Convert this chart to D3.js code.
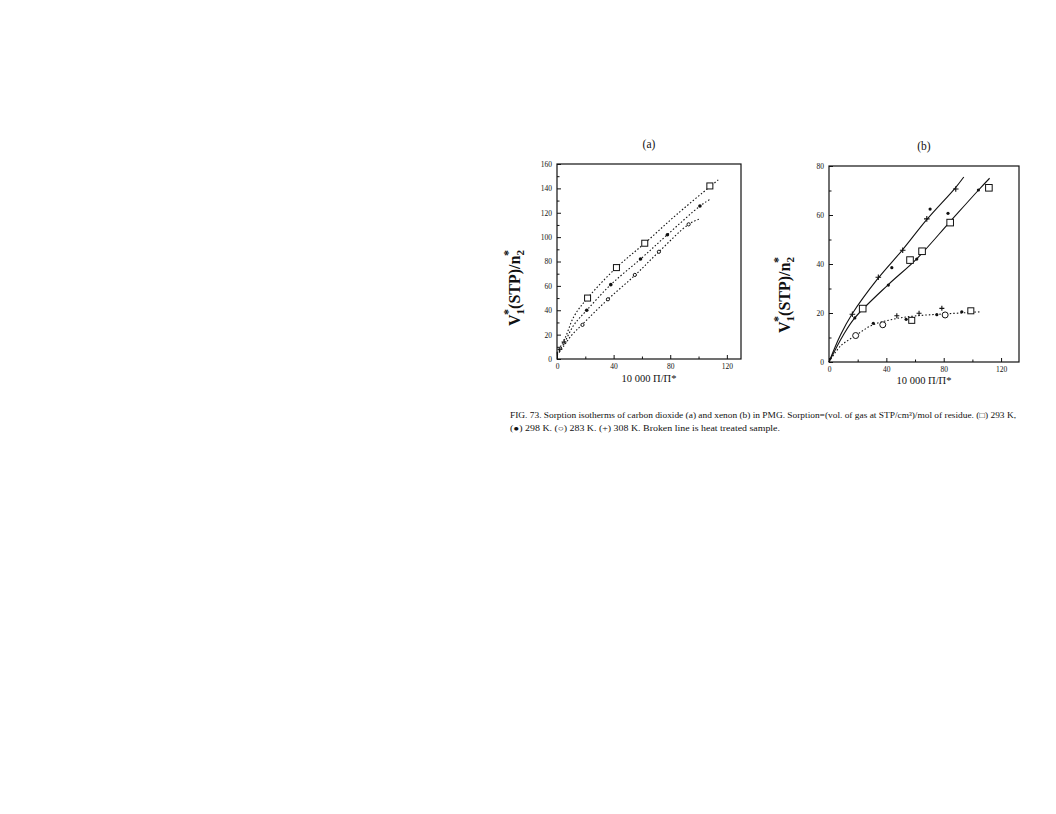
<!DOCTYPE html>
<html>
<head>
<meta charset="utf-8">
<script src="https://cdn.jsdelivr.net/npm/d3@7"></script>
<style>
  body { margin: 0; background: #fff; }
  svg { display: block; opacity: 0.999; }
  text { font-family: "Liberation Serif", "DejaVu Serif", serif; fill: #111; }
</style>
</head>
<body>
<div id="chart"></div>
<script>
var svgWidth = 1056;
var svgHeight = 814;

// ---- panel (a): CO2 ----
var aSquares = [[21.6, 50], [42, 75], [62, 95], [108, 142]];
var aFilled = [[21, 40], [38, 61], [59, 82], [78, 102], [101, 125.5]];
var aOpen = [[18, 28], [36, 49], [55, 69], [72, 88], [93, 110.5]];
var aPlus = [[5, 14], [2, 8]];
var aLineSq = [[0, 5], [6, 18], [12, 35], [21.6, 50], [42, 75], [62, 95], [85, 119], [115, 148]];
var aLineFilled = [[0, 4], [5, 13], [12, 28], [21, 40], [38, 61], [59, 82], [78, 102], [101, 125.5], [108, 131]];
var aLineOpen = [[0, 3], [5, 11], [10, 19], [18, 28.5], [36, 49], [55, 68.6], [72, 88], [93, 110.5], [101, 115]];

// ---- panel (b): xenon ----
var bPlusUpper = [[16.3, 19.5], [34.4, 34.6], [51.4, 45.6], [68.2, 58.4], [88.4, 70.6]];
var bDotUpper = [[43.8, 38.5], [70.5, 62.4]];
var bSquares = [[23.5, 21.8], [56.5, 41.6], [64.9, 45.2], [84.5, 56.9], [111.5, 71.1]];
var bFilled = [[18, 18], [41.4, 31.4], [61.2, 42], [83, 60.7], [104.2, 70.2]];
var bLowCircles = [[18.6, 10.8], [37.5, 15.2], [81, 19.2]];
var bLowSquares = [[57.7, 17], [98.9, 20.9]];
var bLowDots = [[30.9, 15.8], [53.8, 17.4], [75.2, 19.3], [92.6, 20.5]];
var bLowPlus = [[47.3, 18.9], [62.8, 19.9], [78.7, 21.9]];
var bLineUpper = [[0, 0], [8, 11], [16, 19.5], [34, 34], [51, 45.6], [68, 58], [88, 71], [94, 75.5]];
var bLineMiddle = [[0, 0], [10, 11], [18, 18], [41, 31.4], [61, 42], [84, 57], [104, 70], [112, 75]];
var bLineLower = [[0, 0], [8, 6.5], [18.6, 10.8], [30, 15], [45, 17.5], [60, 18.8], [80, 19.6], [106, 20.5]];

var xTicks = [0, 40, 80, 120];
var xMinor = [20, 60, 100];
var aYTicks = [0, 20, 40, 60, 80, 100, 120, 140, 160];
var aYMinor = [10, 30, 50, 70, 90, 110, 130, 150];
var bYTicks = [0, 20, 40, 60, 80];
var bYMinor = [10, 30, 50, 70];

var caption1 = "FIG. 73.  Sorption isotherms of carbon dioxide (a) and xenon (b) in PMG. Sorption=(vol. of gas at STP/cm\u00B3)/mol of residue. (\u25A1) 293 K,";
var caption2 = "(\u25CF) 298 K. (\u25CB) 283 K. (+) 308 K.  Broken line is heat treated sample.";

var svg = d3.select("#chart")
  .append("svg")
  .attr("width", svgWidth)
  .attr("height", svgHeight);

// draw one panel frame + axes, return scales
function makePanel(box, xMax, yMax, yTicks, yMinor, title) {
  var x = d3.scaleLinear().domain([0, xMax]).range([box.left, box.right]);
  var y = d3.scaleLinear().domain([0, yMax]).range([box.bottom, box.top]);
  var g = svg.append("g");

  g.append("rect")
    .attr("x", box.left).attr("y", box.top)
    .attr("width", box.right - box.left).attr("height", box.bottom - box.top)
    .attr("fill", "none").attr("stroke", "#111").attr("stroke-width", 1.2);

  var bottomAxis = d3.axisBottom(x).tickValues(xTicks).tickSizeInner(-4).tickSizeOuter(0).tickPadding(5);
  g.append("g").attr("transform", `translate(0,${box.bottom})`).call(bottomAxis);
  g.append("g").attr("transform", `translate(0,${box.bottom})`)
    .call(d3.axisBottom(x).tickValues(xMinor).tickSizeInner(-2.5).tickSizeOuter(0).tickFormat(""));

  var leftAxis = d3.axisLeft(y).tickValues(yTicks).tickSizeInner(-4).tickSizeOuter(0).tickPadding(5);
  g.append("g").attr("transform", `translate(${box.left},0)`).call(leftAxis);
  g.append("g").attr("transform", `translate(${box.left},0)`)
    .call(d3.axisLeft(y).tickValues(yMinor).tickSizeInner(-2.5).tickSizeOuter(0).tickFormat(""));

  g.selectAll(".domain").remove();
  g.selectAll(".tick line").attr("stroke", "#111");
  g.selectAll(".tick text").style("font-family", "'Liberation Serif', serif").style("font-size", "7.5px").attr("fill", "#111");

  svg.append("text")
    .attr("x", (box.left + box.right) / 2).attr("y", box.top - 16)
    .attr("text-anchor", "middle").style("font-size", "11.5px")
    .text(title);

  return { x: x, y: y };
}

function drawLine(s, pts, dashed) {
  var line = d3.line().x(d => s.x(d[0])).y(d => s.y(d[1])).curve(d3.curveCatmullRom.alpha(0.5));
  svg.append("path")
    .datum(pts)
    .attr("d", line)
    .attr("fill", "none")
    .attr("stroke", "#111")
    .attr("stroke-width", 1.1)
    .attr("stroke-dasharray", dashed ? "1.5,2" : null);
}

function drawMarks(s, pts, kind, size) {
  var g = svg.append("g");
  pts.forEach(function(p) {
    var cx = s.x(p[0]), cy = s.y(p[1]);
    if (kind === "square") {
      g.append("rect").attr("x", cx - size).attr("y", cy - size)
        .attr("width", size * 2).attr("height", size * 2)
        .attr("fill", "#fff").attr("stroke", "#111").attr("stroke-width", 1);
    } else if (kind === "circle") {
      g.append("circle").attr("cx", cx).attr("cy", cy).attr("r", size)
        .attr("fill", "#fff").attr("stroke", "#111").attr("stroke-width", 1);
    } else if (kind === "dot") {
      g.append("circle").attr("cx", cx).attr("cy", cy).attr("r", size).attr("fill", "#111");
    } else if (kind === "plus") {
      g.append("path")
        .attr("d", `M${cx - size},${cy}H${cx + size}M${cx},${cy - size}V${cy + size}`)
        .attr("stroke", "#111").attr("stroke-width", 1.1);
    }
  });
}

function yLabel(cx, cy) {
  var t = svg.append("text")
    .attr("transform", `translate(${cx},${cy}) rotate(-90)`)
    .attr("text-anchor", "middle")
    .style("font-size", "16px")
    .style("font-weight", "bold");
  t.append("tspan").text("V");
  t.append("tspan").attr("dy", 4).style("font-size", "11px").text("1");
  t.append("tspan").attr("dy", -12).attr("dx", -6).style("font-size", "12px").text("*");
  t.append("tspan").attr("dy", 8).text("(STP)/n");
  t.append("tspan").attr("dy", 4).style("font-size", "11px").text("2");
  t.append("tspan").attr("dy", -12).attr("dx", -6).style("font-size", "12px").text("*");
}

function xLabel(cx, cy) {
  svg.append("text")
    .attr("x", cx).attr("y", cy)
    .attr("text-anchor", "middle")
    .style("font-size", "10.5px")
    .text("10 000 \u03A0/\u03A0*");
}

// panel (a)
var sa = makePanel({ left: 557, right: 741, top: 164, bottom: 359 }, 130, 160, aYTicks, aYMinor, "(a)");
drawLine(sa, aLineSq, true);
drawLine(sa, aLineFilled, true);
drawLine(sa, aLineOpen, true);
drawMarks(sa, aSquares, "square", 3);
drawMarks(sa, aFilled, "dot", 1.8);
drawMarks(sa, aOpen, "circle", 1.6);
drawMarks(sa, aPlus, "plus", 2.5);
yLabel(520, 288);
xLabel(649, 382);

// panel (b)
var sb = makePanel({ left: 829, right: 1019, top: 166, bottom: 362 }, 132.5, 80, bYTicks, bYMinor, "(b)");
drawLine(sb, bLineUpper, false);
drawLine(sb, bLineMiddle, false);
drawLine(sb, bLineLower, true);
drawMarks(sb, bPlusUpper, "plus", 2.8);
drawMarks(sb, bDotUpper, "dot", 1.6);
drawMarks(sb, bSquares, "square", 3.3);
drawMarks(sb, bFilled, "dot", 1.6);
drawMarks(sb, bLowCircles, "circle", 3);
drawMarks(sb, bLowSquares, "square", 3);
drawMarks(sb, bLowDots, "dot", 1.6);
drawMarks(sb, bLowPlus, "plus", 2.5);
yLabel(790, 295);
xLabel(924, 384);

// caption
svg.append("text").attr("x", 510).attr("y", 418).style("font-size", "8px")
  .attr("textLength", 506).attr("lengthAdjust", "spacingAndGlyphs").text(caption1);
svg.append("text").attr("x", 510).attr("y", 431).style("font-size", "8px")
  .attr("textLength", 270).attr("lengthAdjust", "spacingAndGlyphs").text(caption2);
</script>
</body>
</html>
